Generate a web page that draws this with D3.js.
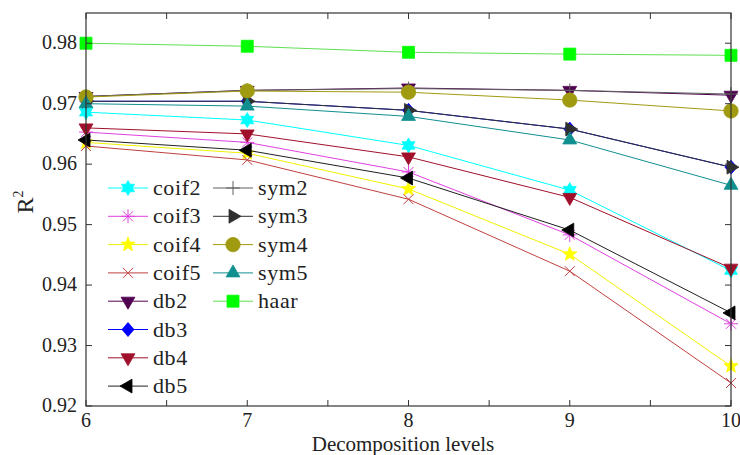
<!DOCTYPE html>
<html>
<head>
<meta charset="utf-8">
<script src="https://cdn.jsdelivr.net/npm/d3@7"></script>
<style>
  html, body { margin: 0; padding: 0; background: #fff; }
  svg { display: block; }
  text { font-family: 'Liberation Serif', 'DejaVu Serif', serif; }
</style>
</head>
<body>
<svg id="chart" width="740" height="455"></svg>
<script>
// ---- data ----
const levels = [6, 7, 8, 9, 10];
const seriesNames = ["coif2","coif3","coif4","coif5","db2","db3","db4","db5","sym2","sym3","sym4","sym5","haar"];
const coif2 = [0.9686, 0.9673, 0.9631, 0.9557, 0.9424];
const coif3 = [0.9653, 0.9636, 0.9587, 0.9483, 0.9336];
const coif4 = [0.9636, 0.9618, 0.9559, 0.9451, 0.9266];
const coif5 = [0.9630, 0.9607, 0.9542, 0.9423, 0.9238];
const db2   = [0.9712, 0.9722, 0.9726, 0.9722, 0.9714];
const db3   = [0.9704, 0.9704, 0.9689, 0.9658, 0.9595];
const db4   = [0.9660, 0.9650, 0.9612, 0.9545, 0.9428];
const db5   = [0.9640, 0.9623, 0.9577, 0.9491, 0.9354];
const sym2  = [0.9712, 0.9722, 0.9725, 0.9722, 0.9716];
const sym3  = [0.9704, 0.9704, 0.9689, 0.9658, 0.9595];
const sym4  = [0.9711, 0.9721, 0.9719, 0.9706, 0.9688];
const sym5  = [0.9700, 0.9696, 0.9679, 0.9640, 0.9565];
const haar  = [0.9800, 0.9795, 0.9785, 0.9782, 0.9780];
const yTicks = [0.92, 0.93, 0.94, 0.95, 0.96, 0.97, 0.98];
const xTicks = [6, 7, 8, 9, 10];
const xMinorTicks = [6, 6.5, 7, 7.5, 8, 8.5, 9, 9.5, 10];

const valuesByName = {coif2, coif3, coif4, coif5, db2, db3, db4, db5, sym2, sym3, sym4, sym5, haar};
const colors = {
  coif2: "#00ffff", coif3: "#e040e0", coif4: "#ffff00", coif5: "#c04040",
  db2: "#500050", db3: "#0000ff", db4: "#a0102a", db5: "#000000",
  sym2: "#606060", sym3: "#303030", sym4: "#a09a10", sym5: "#108f8f", haar: "#00ff00"
};
const lineColors = Object.assign({}, colors, {haar: "#60e050", coif4: "#f0f000", db5: "#202020"});
const markers = {
  coif2: "hexagram", coif3: "asterisk", coif4: "pentagram", coif5: "x",
  db2: "triDown", db3: "diamond", db4: "triDown", db5: "triLeft",
  sym2: "plus", sym3: "triRight", sym4: "circle", sym5: "triUp", haar: "square"
};

// ---- layout ----
const FONT = "'Liberation Serif', 'DejaVu Serif', serif";
const svg = d3.select("#chart").attr("font-family", FONT);
const pLeft = 86, pRight = 731, pTop = 13, pBottom = 406;
const x = d3.scaleLinear().domain([6, 10]).range([pLeft, pRight]);
const y = d3.scaleLinear().domain([0.92, 0.985]).range([pBottom, pTop]);

// ---- markers ----
function triPath(r, angleDeg) {
  const pts = [];
  for (let i = 0; i < 3; i++) {
    const a = (angleDeg + i * 120) * Math.PI / 180;
    pts.push([r * Math.cos(a), r * Math.sin(a)]);
  }
  return "M" + pts.map(p => p.join(",")).join("L") + "Z";
}
function starPath(n, rOuter, rInner, startDeg) {
  const pts = [];
  for (let i = 0; i < 2 * n; i++) {
    const r = i % 2 === 0 ? rOuter : rInner;
    const a = (startDeg + i * 180 / n) * Math.PI / 180;
    pts.push([r * Math.cos(a), r * Math.sin(a)]);
  }
  return "M" + pts.map(p => p.join(",")).join("L") + "Z";
}
function drawMarker(g, type, cx, cy, color) {
  const t = `translate(${cx},${cy})`;
  let d;
  let strokeOnly = false;
  switch (type) {
    case "square": d = "M-6,-6H6V6H-6Z"; break;
    case "circle": d = d3.symbol(d3.symbolCircle, Math.PI * 7.2 * 7.2)(); break;
    case "triDown": d = triPath(8, 90); break;
    case "triUp": d = triPath(8, -90); break;
    case "triLeft": d = triPath(8, 180); break;
    case "triRight": d = triPath(8, 0); break;
    case "diamond": d = "M0,-7L6,0L0,7L-6,0Z"; break;
    case "hexagram": d = starPath(6, 7.5, 4.3, -90); break;
    case "pentagram": d = starPath(5, 7.5, 3.2, -90); break;
    case "x": d = "M-5,-5L5,5M-5,5L5,-5"; strokeOnly = true; break;
    case "plus": d = "M-7,0H7M0,-7V7"; strokeOnly = true; break;
    case "asterisk": d = "M-7,0H7M0,-7V7M-5,-5L5,5M-5,5L5,-5"; strokeOnly = true; break;
  }
  g.append("path").attr("d", d).attr("transform", t)
    .attr("fill", strokeOnly ? "none" : color)
    .attr("stroke", color)
    .attr("stroke-width", strokeOnly ? 1 : 0.8);
}

// ---- series ----
const plot = svg.append("g");
const line = d3.line().x((d, i) => x(levels[i])).y(d => y(d));
seriesNames.forEach(name => {
  const vals = valuesByName[name];
  const g = plot.append("g");
  g.append("path").datum(vals).attr("d", line)
    .attr("fill", "none").attr("stroke", lineColors[name]).attr("stroke-width", 1);
  vals.forEach((v, i) => drawMarker(g, markers[name], x(levels[i]), y(v), colors[name]));
});

// ---- axes / frame ----
const axisColor = "#333";
const fr = svg.append("g");
fr.append("rect").attr("x", pLeft).attr("y", pTop).attr("width", pRight - pLeft).attr("height", pBottom - pTop)
  .attr("fill", "none").attr("stroke", axisColor).attr("stroke-width", 1.2);
const tickLen = 6;
xMinorTicks.forEach(t => {
  fr.append("line").attr("x1", x(t)).attr("x2", x(t)).attr("y1", pBottom).attr("y2", pBottom - tickLen).attr("stroke", axisColor);
  fr.append("line").attr("x1", x(t)).attr("x2", x(t)).attr("y1", pTop).attr("y2", pTop + tickLen).attr("stroke", axisColor);
});
yTicks.forEach(t => {
  fr.append("line").attr("x1", pLeft).attr("x2", pLeft + tickLen).attr("y1", y(t)).attr("y2", y(t)).attr("stroke", axisColor);
  fr.append("line").attr("x1", pRight).attr("x2", pRight - tickLen).attr("y1", y(t)).attr("y2", y(t)).attr("stroke", axisColor);
});
const fontColor = "#222";
xTicks.forEach(t => {
  svg.append("text").attr("x", x(t)).attr("y", 427).attr("text-anchor", "middle")
    .attr("font-family", FONT).attr("font-size", 20).attr("fill", fontColor).text(d3.format("d")(t));
});
yTicks.forEach(t => {
  svg.append("text").attr("x", 77).attr("y", y(t) + 6).attr("text-anchor", "end")
    .attr("font-family", FONT).attr("font-size", 20).attr("fill", fontColor).text(d3.format(".2f")(t));
});
svg.append("text").attr("x", 403).attr("y", 451).attr("text-anchor", "middle")
  .attr("font-family", FONT).attr("font-size", 21).attr("fill", fontColor).text("Decomposition levels");
const yl = svg.append("text").attr("transform", "translate(33,202) rotate(-90)")
  .attr("text-anchor", "middle").attr("font-family", FONT).attr("font-size", 24).attr("fill", fontColor);
yl.append("tspan").text("R");
yl.append("tspan").attr("font-size", 14).attr("dy", -10).text("2");

// ---- legend ----
const leg = svg.append("g");
const rowH = 28.3;
seriesNames.forEach((name, i) => {
  const col = i < 8 ? 0 : 1;
  const row = i < 8 ? i : i - 8;
  const x0 = col === 0 ? 108 : 213;
  const yy = 188 + row * rowH;
  const g = leg.append("g");
  g.append("line").attr("x1", x0).attr("x2", x0 + 40).attr("y1", yy).attr("y2", yy)
    .attr("stroke", lineColors[name]).attr("stroke-width", 1);
  drawMarker(g, markers[name], x0 + 20, yy, colors[name]);
  g.append("text").attr("x", x0 + 45).attr("y", yy + 7).attr("font-size", 22)
    .attr("font-family", FONT).attr("letter-spacing", 0.6)
    .attr("fill", fontColor).text(name);
});
</script>
</body>
</html>
